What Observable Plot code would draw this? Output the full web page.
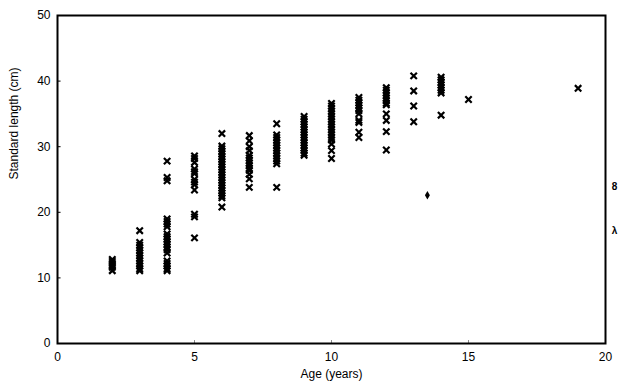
<!DOCTYPE html>
<html>
<head>
<meta charset="utf-8">
<script src="https://cdn.jsdelivr.net/npm/d3@7"></script>
<script src="https://cdn.jsdelivr.net/npm/@observablehq/plot@0.6"></script>
<style>
  html, body { margin: 0; padding: 0; background: #fff; }
  #chart svg { display: block; }
</style>
</head>
<body>
<div id="chart"></div>
<script>
// Ages (years) and standard lengths (cm) of each fish, grouped by age
const ages = [2, 3, 4, 5, 6, 7, 8, 9, 10, 11, 12, 13, 14, 15, 19];
const len2 = [12.8, 12.5, 12.2, 11.9, 11.6, 11.1];
const len3 = [17.2, 15.4, 15.0, 14.6, 14.2, 13.8, 13.4, 13.0, 12.6, 12.2, 11.8, 11.4, 11.1];
const len4 = [27.8, 25.3, 24.8, 19.0, 18.6, 18.2, 17.8, 16.7, 16.3, 15.9, 15.5, 15.1, 14.7, 14.3, 13.8, 12.6, 12.2, 11.8, 11.4, 11.1];
const len5 = [28.6, 28.2, 27.6, 26.6, 26.2, 25.9, 25.0, 24.6, 24.2, 23.4, 19.7, 19.3, 16.1];
const len6 = [32.0, 30.1, 29.7, 29.3, 28.9, 28.5, 28.1, 27.7, 27.3, 26.9, 26.5, 26.1, 25.7, 25.3, 24.9, 24.5, 24.1, 23.7, 23.3, 22.9, 22.5, 22.2, 20.8];
const len7 = [31.7, 30.9, 30.0, 29.4, 28.7, 28.3, 27.9, 27.5, 27.1, 26.7, 26.4, 25.8, 25.1, 23.8];
const len8 = [33.5, 31.8, 31.4, 31.0, 30.6, 30.2, 29.8, 29.4, 29.0, 28.6, 28.2, 27.8, 27.4, 23.8];
const len9 = [34.6, 34.2, 33.8, 33.4, 33.0, 32.6, 32.2, 31.8, 31.4, 31.0, 30.6, 30.2, 29.8, 29.4, 29.0, 28.7];
const len10 = [36.6, 36.2, 35.8, 35.4, 35.0, 34.6, 34.2, 33.8, 33.4, 33.0, 32.6, 32.2, 31.8, 31.4, 31.0, 30.4, 29.4, 28.2];
const len11 = [37.5, 37.1, 36.7, 36.3, 35.9, 35.5, 35.0, 34.0, 33.7, 32.2, 31.4];
const len12 = [39.0, 38.6, 38.2, 37.8, 37.4, 37.0, 36.6, 36.4, 35.0, 34.0, 32.3, 29.5];
const len13 = [40.8, 38.5, 36.2, 33.8];
const len14 = [40.6, 40.2, 39.8, 39.4, 39.0, 38.6, 38.2, 34.8];
const len15 = [37.2];
const len19 = [38.9];
const lengthGroups = [len2, len3, len4, len5, len6, len7, len8, len9, len10, len11, len12, len13, len14, len15, len19];

// odd single point (filled blob)
const oddAge = [13.5];
const oddLength = [22.6];

// stray glyphs at the right edge of the figure
const strayGlyphs = ["8", "λ"];
const strayAge = [20.33, 20.33];
const strayLength = [23.9, 17.2];

const xTicks = [0, 5, 10, 15, 20];
const yTicks = [0, 10, 20, 30, 40, 50];
const yInnerTicks = [10, 20, 30, 40];
const xInnerTicks = [5, 10, 15];

const fish = [];
ages.forEach((a, i) => lengthGroups[i].forEach(l => fish.push({age: a, length: l})));
const odd = oddAge.map((a, i) => ({age: a, length: oddLength[i]}));
const stray = strayGlyphs.map((g, i) => ({glyph: g, age: strayAge[i], length: strayLength[i]}));

const chart = Plot.plot({
  width: 625,
  height: 385,
  marginLeft: 57,
  marginRight: 20,
  marginTop: 15,
  marginBottom: 42,
  style: {fontFamily: "'Liberation Sans', Arial, sans-serif", fontSize: "12px", color: "#000", background: "#fff"},
  x: {domain: [0, 20]},
  y: {domain: [0, 50]},
  marks: [
    Plot.axisY({ticks: yTicks, tickSize: 0, tickPadding: 7, fontSize: 12, label: null}),
    Plot.axisX({ticks: xTicks, tickSize: 0, tickPadding: 9, fontSize: 12, label: null}),
    Plot.ruleY(yInnerTicks, {x1: 0, x2: 0.13, stroke: "#000", strokeWidth: 1}),
    Plot.ruleX(xInnerTicks, {y1: 0, y2: 0.45, stroke: "#888", strokeWidth: 1}),
    Plot.frame({stroke: "#000", strokeWidth: 2}),
    Plot.text(["Age (years)"], {frameAnchor: "bottom", dy: 34, fontSize: 12}),
    Plot.text(["Standard length (cm)"], {frameAnchor: "left", dx: -43, rotate: -90, fontSize: 12}),
    Plot.dot(fish, {x: "age", y: "length", symbol: "times", r: 3.0, stroke: "#000", strokeWidth: 2.2}),
    Plot.dot(odd, {x: "age", y: "length", symbol: "diamond", r: 2.6, fill: "#000"}),
    Plot.text(stray, {x: "age", y: "length", text: "glyph", fontSize: 10, fontWeight: "bold", clip: false})
  ]
});
document.getElementById("chart").appendChild(chart);
</script>
</body>
</html>
